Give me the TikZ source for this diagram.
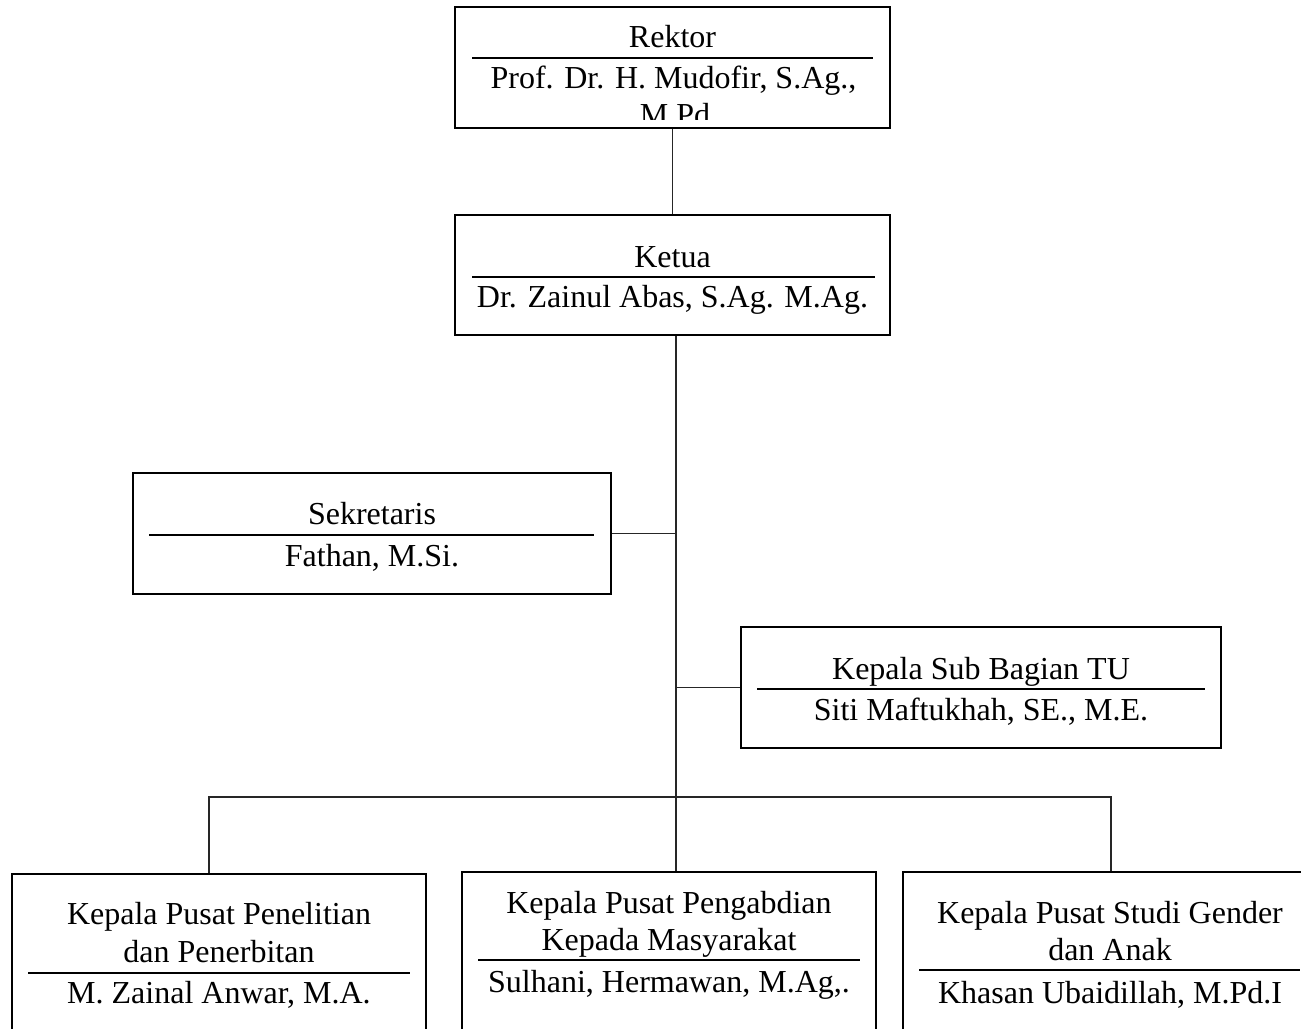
\documentclass[tikz,border=0pt]{standalone}
\usepackage{fontspec}
\setmainfont{Liberation Serif}
\begin{document}
\begin{tikzpicture}[x=0.75pt,y=-0.75pt,
  box/.style={draw, line width=2.2pt, rectangle, inner sep=0pt},
  txt/.style={anchor=base, inner sep=0pt, font=\fontsize{24}{27.75}\selectfont},
  rulel/.style={line width=1.5pt},
  conn/.style={line width=1.1pt, draw=black!85}]
\clip (0,0) rectangle (1301,1028);
\fill[white] (0,0) rectangle (1301,1028);

% boxes
\node[box, minimum width=435*0.75pt, minimum height=121*0.75pt] (rektor) at (672.5,67.5) {};
\node[box, minimum width=435*0.75pt, minimum height=120*0.75pt] (ketua) at (672.5,275) {};
\node[box, minimum width=478*0.75pt, minimum height=121*0.75pt] (sek) at (372,533.5) {};
\node[box, minimum width=480*0.75pt, minimum height=121*0.75pt] (kasub) at (981,687.5) {};
\node[box, minimum width=414*0.75pt, minimum height=186*0.75pt] (pl) at (219,967) {};
\node[box, minimum width=414*0.75pt, minimum height=188*0.75pt] (pm) at (669,966) {};
\node[box, minimum width=414*0.75pt, minimum height=188*0.75pt] (pr) at (1110,966) {};

% Rektor
\node[txt] (rk1) at (672.5,47) {Rektor};
\draw[rulel] (472,57.7) -- (873,57.7);
\node[txt] (rk2) at (673.5,88) {Prof. Dr. H. Mudofir, S.Ag.,};
\begin{scope}
\clip (457,60) rectangle (888,119.5);
\node[txt] (rk3) at (675,125) {M.Pd};
\end{scope}

% Ketua
\node[txt] (kt1) at (672.5,267) {Ketua};
\draw[rulel] (472,276.7) -- (875,276.7);
\node[txt] (kt2) at (672.5,307) {Dr. Zainul Abas, S.Ag. M.Ag.};

% Sekretaris
\node[txt] (sk1) at (372,524) {Sekretaris};
\draw[rulel] (149,535) -- (594,535);
\node[txt] (sk2) at (372,566) {Fathan, M.Si.};

% Kasubag
\node[txt] (ks1) at (981,679) {Kepala Sub Bagian TU};
\draw[rulel] (757,689) -- (1205,689);
\node[txt] (ks2) at (981,720) {Siti Maftukhah, SE., M.E.};

% bottom left
\node[txt] (pl1) at (219,924) {Kepala Pusat Penelitian};
\node[txt] (pl2) at (219,962) {dan Penerbitan};
\draw[rulel] (28,972.5) -- (410,972.5);
\node[txt] (pl3) at (219,1003.5) {M. Zainal Anwar, M.A.};

% bottom middle
\node[txt] (pm1) at (669,913) {Kepala Pusat Pengabdian};
\node[txt] (pm2) at (669,950) {Kepada Masyarakat};
\draw[rulel] (478,960) -- (860,960);
\node[txt] (pm3) at (669,992) {Sulhani, Hermawan, M.Ag,.};

% bottom right
\node[txt] (pr1) at (1110,923) {Kepala Pusat Studi Gender};
\node[txt] (pr2) at (1110,960) {dan Anak};
\draw[rulel] (919,970) -- (1300,970);
\node[txt] (pr3) at (1110,1003) {Khasan Ubaidillah, M.Pd.I};

% connectors
\coordinate (trunk) at ([xshift=2.6pt]ketua.south);
\coordinate (busL) at (209,797);
\coordinate (busR) at (1111,797);
\draw[conn] (rektor.south) -- (ketua.north);
\draw[conn] (trunk) -- (trunk |- pm.north);
\draw[conn] (sek.east) -- (sek.east -| trunk);
\draw[conn] (kasub.west) -- (kasub.west -| trunk);
\draw[conn] (pl.north -| busL) -- (busL) -- (busR) -- (pr.north -| busR);
\end{tikzpicture}
\end{document}
